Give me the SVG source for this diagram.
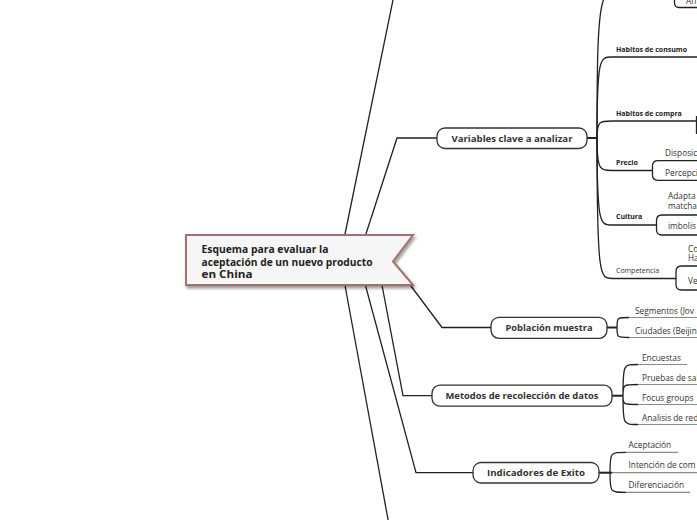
<svg xmlns="http://www.w3.org/2000/svg" width="697" height="520" viewBox="0 0 697 520">
<defs>
<filter id="sh" x="-10%" y="-20%" width="130%" height="160%"><feDropShadow dx="1.5" dy="2.5" stdDeviation="1.5" flood-color="#000" flood-opacity="0.4"/></filter>
<style>
text{font-family:"Open Sans","Liberation Sans",sans-serif}
.ln{fill:none;stroke:#222;stroke-width:1.3}
.thick{fill:none;stroke:#222;stroke-width:2}
.ul{fill:none;stroke:#8a8a8a;stroke-width:1.2}
.node rect{fill:#fff;stroke:#333;stroke-width:1.3}
.nt{font-weight:700;font-size:9.5px;fill:#333;text-anchor:middle}
.sub{font-weight:700;font-size:7px;fill:#222}
.subn{font-size:7px;fill:#333}
.leaf{font-size:8.3px;fill:#333}
.ct{font-weight:700;font-size:10.5px;fill:#222}
</style>
</defs>
<rect width="697" height="520" fill="#fff"/>
<g id="connectors">
<path class="ln" d="M343.8 240 L393.4 -2"/>
<path class="ln" d="M364 240 L397 138 L437 138"/>
<path class="ln" d="M393 262 L442 327.5 L491 327.5"/>
<path class="ln" d="M381 280 L403 395.7 L432 395.7"/>
<path class="ln" d="M364 280 L416 472.7 L473 472.7"/>
<path class="ln" d="M344 280 L388.5 522"/>
<path class="thick" d="M587 138 L597 138"/>
<path class="ln" d="M597 138 C597 -12 600 -12 625 -12"/>
<path class="ln" d="M597 138 C597 57 600 57 612 57 L697 57"/>
<path class="ln" d="M597 138 C597 121 600 121 612 121 L696.5 121"/>
<path class="ln" d="M696.5 116 L696.5 134"/>
<path class="ln" d="M597 138 C597 170.5 600 170.5 612 170.5 L652.5 170.5"/>
<path class="ln" d="M597 138 C597 225 600 225 612 225 L656.5 225"/>
<path class="ln" d="M597 138 C597 278.5 600 278.5 612 278.5 L676 278.5"/>
<path class="ln" d="M674.5 -5 L674.5 3 Q674.5 7.5 679 7.5 L697 7.5"/>
<path class="ln" d="M697 160.7 L658 160.7 Q652.5 160.7 652.5 166 L652.5 175 Q652.5 180.3 658 180.3 L697 180.3"/>
<path class="ln" d="M697 215 L662 215 Q656.5 215 656.5 220.5 L656.5 229.5 Q656.5 235 662 235 L697 235"/>
<path class="ln" d="M697 266 L681.5 266 Q676 266 676 271.5 L676 284.5 Q676 290 681.5 290 L697 290"/>
<path class="thick" d="M607 327.5 L617 327.5"/>
<path class="ln" d="M617 327.5 C617 317.5 617 317.5 629 317.5"/>
<path class="ln" d="M617 327.5 C617 337.5 617 337.5 629 337.5"/>
<path class="ul" d="M629 317.5 L697 317.5 M629 337.5 L697 337.5"/>
<path class="thick" d="M612 395.7 L623 395.7"/>
<path class="ln" d="M623 395.7 C623 364.5 623 364.5 638 364.5 M623 395.7 C623 384.5 623 384.5 638 384.5 M623 395.7 C623 404.5 623 404.5 638 404.5 M623 395.7 C623 424.5 623 424.5 638 424.5"/>
<path class="ul" d="M638 364.5 L687 364.5 M638 384.5 L697 384.5 M638 404.5 L697 404.5 M638 424.5 L697 424.5"/>
<path class="thick" d="M599 472.7 L612 472.7"/>
<path class="ln" d="M610 472.7 C610 452.3 610 452.3 626 452.3 M610 472.7 C610 492.3 610 492.3 626 492.3"/>
<path class="ul" d="M612 472.7 L697 472.7 M626 452.3 L678 452.3 M626 492.3 L690 492.3"/>
</g>
<g id="central">
<path d="M186 235 L413 235 L393 261.5 L413 285 L186 285 Z" fill="#f7f6f6" stroke="#a36f6f" stroke-width="2" filter="url(#sh)"/>
<text class="ct" x="201.5" y="252.5" textLength="127" lengthAdjust="spacingAndGlyphs">Esquema para evaluar la</text>
<text class="ct" x="201.5" y="265.5" textLength="171" lengthAdjust="spacingAndGlyphs">aceptación de un nuevo producto</text>
<text class="ct" x="201.5" y="278" textLength="51" lengthAdjust="spacingAndGlyphs">en China</text>
</g>
<g id="n-variables" class="node">
<rect x="437" y="128" width="150" height="20.5" rx="8"/>
<text class="nt" x="512" y="141.5" textLength="121" lengthAdjust="spacingAndGlyphs">Variables clave a analizar</text>
</g>
<g id="n-poblacion" class="node">
<rect x="491" y="317.3" width="116" height="21" rx="8"/>
<text class="nt" x="549" y="331" textLength="87" lengthAdjust="spacingAndGlyphs">Población muestra</text>
</g>
<g id="n-metodos" class="node">
<rect x="432" y="385.2" width="180" height="21" rx="8"/>
<text class="nt" x="522" y="399" textLength="153" lengthAdjust="spacingAndGlyphs">Metodos de recolección de datos</text>
</g>
<g id="n-indicadores" class="node">
<rect x="473" y="462.5" width="126" height="20.5" rx="8"/>
<text class="nt" x="536" y="476" textLength="98" lengthAdjust="spacingAndGlyphs">Indicadores de Exito</text>
</g>
<g id="sub-variables">
<text class="sub" x="616" y="51.5">Habitos de consumo</text>
<text class="sub" x="616" y="115.5">Habitos de compra</text>
<text class="sub" x="616" y="165">Precio</text>
<text class="sub" x="616" y="219">Cultura</text>
<text class="subn" x="616" y="272.5">Competencia</text>
<text class="leaf" x="686" y="3.5">An</text>
<text class="leaf" x="665" y="155.5">Disposici</text>
<text class="leaf" x="665" y="175.5">Percepci</text>
<text class="leaf" x="668" y="198.5">Adapta</text>
<text class="leaf" x="668" y="208.5">matcha</text>
<text class="leaf" x="668" y="228.5">imbolis</text>
<text class="leaf" x="688" y="251.5">Co</text>
<text class="leaf" x="688" y="261">Ha</text>
<text class="leaf" x="688" y="283.5">Ve</text>
</g>
<g id="sub-poblacion">
<text class="leaf" x="635" y="313.5">Segmentos (Jov</text>
<text class="leaf" x="635" y="333.5">Ciudades (Beijin</text>
</g>
<g id="sub-metodos">
<text class="leaf" x="642" y="360.5">Encuestas</text>
<text class="leaf" x="642" y="380.5">Pruebas de sal</text>
<text class="leaf" x="642" y="400.5">Focus groups</text>
<text class="leaf" x="642" y="420.5">Analisis de red</text>
</g>
<g id="sub-indicadores">
<text class="leaf" x="628.5" y="448">Aceptación</text>
<text class="leaf" x="628.5" y="467.5">Intención de com</text>
<text class="leaf" x="628.5" y="487.5">Diferenciación</text>
</g>
</svg>
